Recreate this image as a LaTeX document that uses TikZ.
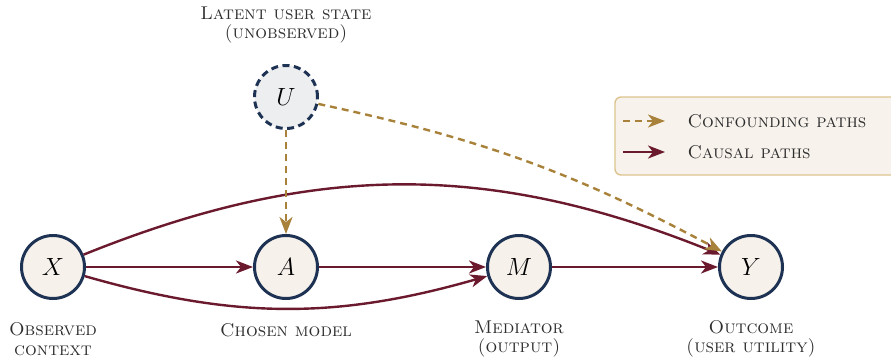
\documentclass[tikz,border=0pt]{standalone}
\usetikzlibrary{arrows.meta,shapes.geometric}
\definecolor{causal}{HTML}{6B1A2E}
\definecolor{confound}{HTML}{A8823A}
\definecolor{nodeborder}{HTML}{1E3354}
\definecolor{nodefill}{HTML}{F6F1EB}
\definecolor{latentfill}{HTML}{ECEEF0}
\definecolor{legfill}{HTML}{F7F2EC}
\definecolor{legborder}{HTML}{DCC48E}
\definecolor{txt}{HTML}{2E2E2E}
\begin{document}
\begin{tikzpicture}[x=1pt,y=1pt,
  var/.style={circle,draw=nodeborder,line width=3pt,fill=nodefill,minimum size=63pt,inner sep=0pt,font=\fontsize{29}{32}\selectfont},
  latent/.style={var,fill=latentfill,dash pattern=on 7pt off 4.5pt},
  lab/.style={align=center,text=txt,font=\fontsize{18.5}{19.5}\selectfont\scshape},
  causalarrow/.style={draw=causal,line width=2.4pt,-{Stealth[length=17pt,width=13pt,inset=5pt]}},
  confarrow/.style={draw=confound,line width=2.4pt,dash pattern=on 7pt off 5pt,-{Stealth[length=17pt,width=13pt,inset=5pt]}}
]
\useasboundingbox (0,0) rectangle (891,360);
% legend
\draw[fill=legfill,draw=legborder,line width=1.4pt,rounded corners=6pt] (615,263) rectangle (905,185);
\coordinate (l1a) at (623,239);
\coordinate (l1b) at (665,239);
\coordinate (l2a) at (623,208);
\coordinate (l2b) at (665,208);
\draw[confarrow] (l1a) -- (l1b);
\draw[causalarrow] (l2a) -- (l2b);
\node[lab,anchor=west] (leg1) at (684,239) {Confounding paths};
\node[lab,anchor=west] (leg2) at (684,208) {Causal paths};
% nodes
\node[var] (X) at (53,93) {$X$};
\node[var] (A) at (286,93) {$A$};
\node[var] (M) at (519,93) {$M$};
\node[var] (Y) at (751,93) {$Y$};
\node[latent] (U) at (286,263) {$U$};
% labels
\node[lab] (lU) at (286,335) {Latent user state\\(unobserved)};
\node[lab] (lX) at (53,21) {Observed\\context};
\node[lab] (lA) at (286,30) {Chosen model};
\node[lab] (lM) at (519,21) {Mediator\\(output)};
\node[lab] (lY) at (751,21) {Outcome\\(user utility)};
% edges
\draw[causalarrow] (X) -- (A);
\draw[causalarrow] (A) -- (M);
\draw[causalarrow] (M) -- (Y);
\draw[causalarrow] (X) to[bend right=16] (M);
\draw[causalarrow] (X) to[bend left=22] (Y);
\draw[confarrow] (U) -- (A);
\draw[confarrow] (U) to[bend left=8] (Y);
\end{tikzpicture}
\end{document}
